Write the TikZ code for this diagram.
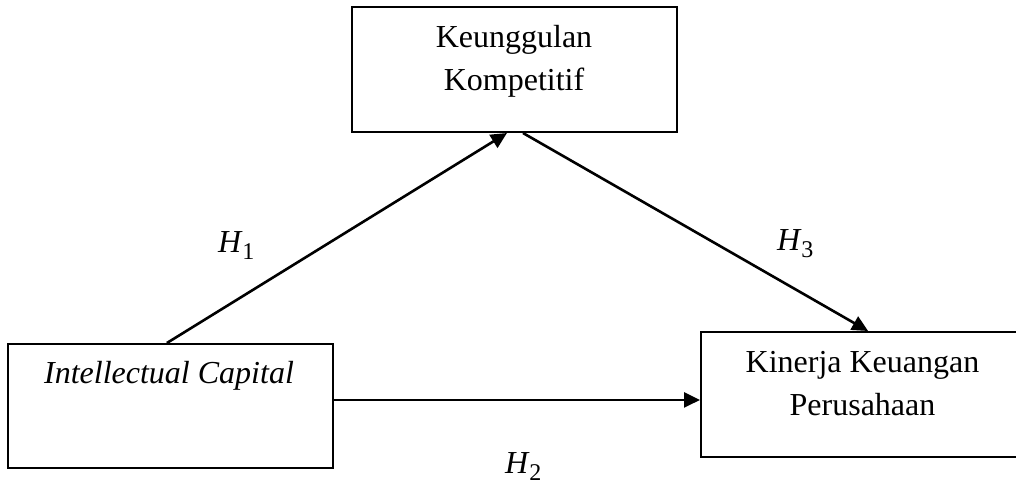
\documentclass[tikz,border=0pt]{standalone}
\usepackage{fontspec}
\setmainfont{Liberation Serif}
\usetikzlibrary{arrows.meta,calc}
\newcommand{\hyp}[1]{{\itshape H}\kern1pt\raisebox{-0.22em}{\fontsize{24}{24}\selectfont #1}}
\begin{document}
\begin{tikzpicture}[x=1pt,y=-1pt,
  box/.style={draw=black,line width=2pt,rectangle,inner sep=0pt},
  txt/.style={anchor=base,inner sep=0pt,font=\fontsize{32}{43}\selectfont},
  hlab/.style={anchor=base west,inner sep=0pt,font=\fontsize{32}{43}\selectfont},
  conn/.style={line width=2.6pt,-{Triangle[length=16pt,width=15pt]}}]
\useasboundingbox (0,0) rectangle (1016,485);
% boxes
\node[box,minimum width=325pt,minimum height=125pt] (kk) at (514.5,69.5) {};
\node[box,minimum width=325pt,minimum height=124pt] (ic) at (170.5,406) {};
\node[box,minimum width=320pt,minimum height=125pt] (kp) at (861,394.5) {};
% texts
\node[txt] (kk1) at (514,47) {Keunggulan};
\node[txt] (kk2) at (514,90) {Kompetitif};
\node[txt] (ic1) at (169,383) {\itshape Intellectual Capital};
\node[txt] (kp1) at (862.5,372) {Kinerja Keuangan};
\node[txt] (kp2) at (862.5,415) {Perusahaan};
% labels
\node[hlab] (h1) at (218,252) {\hyp{1}};
\node[hlab] (h3) at (777,250) {\hyp{3}};
\node[hlab] (h2) at (505,473) {\hyp{2}};
% connectors
\coordinate (s1) at ($(ic.north west)!0.489!(ic.north east)$);
\coordinate (e1) at ($(kk.south west)!0.477!(kk.south east)$);
\coordinate (s3) at ($(kk.south west)!0.526!(kk.south east)$);
\coordinate (e3) at ($(kp.north west)!0.522!(kp.north east)$);
\coordinate (s2) at ($(ic.south east)!0.548!(ic.north east)$);
\draw[conn] (s1) -- (e1);
\draw[conn] (s3) -- (e3);
\draw[conn] (s2) -- (s2 -| kp.west);
\end{tikzpicture}
\end{document}
